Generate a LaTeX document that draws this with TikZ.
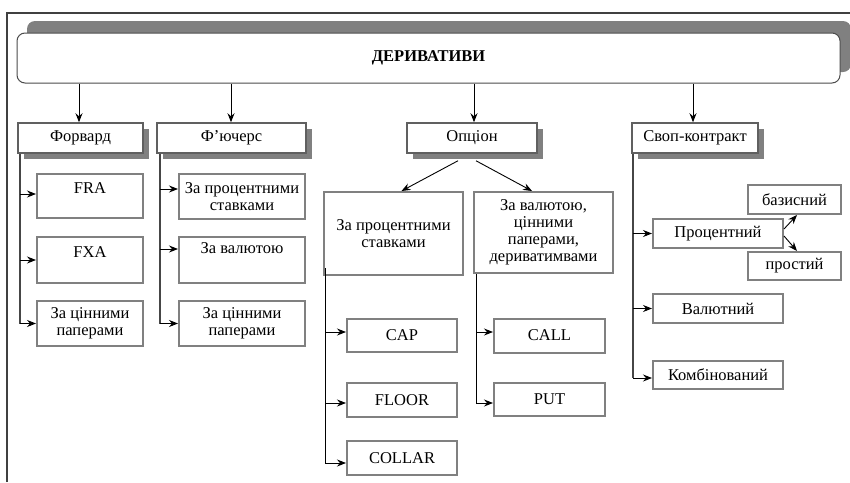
\documentclass[tikz,border=0pt]{standalone}
\usepackage{fontspec}
\setmainfont{Liberation Serif}
\usetikzlibrary{arrows.meta,calc,shadows}
\begin{document}
\begin{tikzpicture}[x=1pt,y=-1pt,
  font=\fontsize{16.5}{17}\selectfont,
  hbox/.style={draw=gray!75!black, line width=1.5pt, fill=white, inner sep=0pt, align=center,
    general shadow={fill=gray, shadow xshift=6pt, shadow yshift=-6pt}},
  cbox/.style={draw=gray, line width=2pt, fill=white, inner sep=0pt, align=center},
  conn/.style={line width=0.9pt, black},
  arr/.style={conn, -{Stealth[length=9pt,width=7pt,inset=3pt]}},
  trunk/.style={line width=1.3pt, gray!55!black},
]
\useasboundingbox (0,0) rectangle (850,482);
\fill[white] (0,0) rectangle (850,482);
% frame
\draw[gray!50!black, line width=1.5pt] (7,482) -- (7,13) -- (850,13);
% banner
\fill[gray, rounded corners=8pt] (27,21) rectangle (851,72);
\node[draw=gray!60!black, fill=white, rounded corners=8pt, minimum width=823, minimum height=50,
  line width=1pt, inner sep=0pt, font=\fontsize{16.5}{17}\selectfont\bfseries] (root) at (428.5,58) {ДЕРИВАТИВИ};

% level 1
\node[hbox, minimum width=125, minimum height=30] (fwd) at (80.5,138) {Форвард};
\node[hbox, minimum width=149, minimum height=30] (fut) at (231.5,138) {Ф’ючерс};
\node[hbox, minimum width=130, minimum height=30] (opt) at (472,138) {Опціон};
\node[hbox, minimum width=126, minimum height=30] (swap) at (695,138) {Своп-контракт};

\foreach \n/\x in {fwd/79,fut/231,opt/474,swap/693}
  \draw[arr] (root.south -| \x,0) -- (\n.north -| \x,0);

% forward
\node[cbox, minimum width=106, minimum height=44, text depth=15pt] (fra) at (90,196) {FRA};
\node[cbox, minimum width=106, minimum height=46, text depth=15pt] (fxa) at (90,260) {FXA};
\node[cbox, minimum width=106, minimum height=45] (fsec) at (90,323.5) {За цінними\\паперами};
\coordinate (fwdend) at (20,323.5);
\draw[trunk] (fwd.south -| fwdend) -- (fwdend);
\draw[arr] ([yshift=2pt]fra.west -| fwdend) -- ([yshift=2pt]fra.west);
\draw[arr] (fxa.west -| fwdend) -- (fxa.west);
\draw[arr] (fsec.west -| fwdend) -- (fsec.west);

% futures
\node[cbox, minimum width=126, minimum height=45] (frate) at (242,196.5) {За процентними\\ставками};
\node[cbox, minimum width=126, minimum height=46, text depth=23pt] (fcur) at (242,260) {За валютою};
\node[cbox, minimum width=126, minimum height=45] (fusec) at (242,323.5) {За цінними\\паперами};
\coordinate (futend) at (160,323.5);
\draw[trunk] (fut.south -| futend) -- (futend);
\draw[arr] ([yshift=7.5pt]frate.west -| futend) -- ([yshift=7.5pt]frate.west);
\draw[arr] ([yshift=11pt]fcur.west -| futend) -- ([yshift=11pt]fcur.west);
\draw[arr] (fusec.west -| futend) -- (fusec.west);

% option
\node[cbox, minimum width=139, minimum height=83] (orate) at (393.5,233.5) {За процентними\\ставками};
\node[cbox, minimum width=139, minimum height=81] (ocur) at (543.5,232.5) {За валютою,\\цінними\\паперами,\\дериватимвами};
\draw[arr] ([xshift=-14pt,yshift=-7pt]opt.south) -- ([xshift=8pt]orate.north);
\draw[arr] ([xshift=4pt,yshift=-7pt]opt.south) -- ([xshift=-11.5pt]ocur.north);

\node[cbox, minimum width=110, minimum height=33] (cap) at (402,335.5) {CAP};
\node[cbox, minimum width=110, minimum height=34] (floor) at (402,400) {FLOOR};
\node[cbox, minimum width=110, minimum height=34] (collar) at (402,458) {COLLAR};
\coordinate (oend) at (325,463);
\draw[conn] ([yshift=8pt]orate.south -| oend) -- (oend);
\draw[arr] ([yshift=3.5pt]cap.west -| oend) -- ([yshift=3.5pt]cap.west);
\draw[arr] ([yshift=-3pt]floor.west -| oend) -- ([yshift=-3pt]floor.west);
\draw[arr] (oend) -- (collar.west |- oend);

\node[cbox, minimum width=111, minimum height=34] (call) at (549.5,335.5) {CALL};
\node[cbox, minimum width=111, minimum height=33] (put) at (549.5,399) {PUT};
\coordinate (o2end) at (476,403);
\draw[conn] (ocur.south -| o2end) -- (o2end);
\draw[arr] ([yshift=3.5pt]call.west -| o2end) -- ([yshift=3.5pt]call.west);
\draw[arr] (o2end) -- (put.west |- o2end);

% swap
\node[cbox, minimum width=130, minimum height=29] (proc) at (718,233.5) {Процентний};
\node[cbox, minimum width=130, minimum height=29] (val) at (718,308.5) {Валютний};
\node[cbox, minimum width=130, minimum height=28] (komb) at (718,375) {Комбінований};
\node[cbox, minimum width=93, minimum height=29] (baz) at (794.5,199.5) {базисний};
\node[cbox, minimum width=93, minimum height=28] (prost) at (794.5,266) {простий};
\coordinate (send) at (633,378);
\draw[trunk] (swap.south -| send) -- (send);
\draw[arr] (proc.west -| send) -- (proc.west);
\draw[arr] (val.west -| send) -- (val.west);
\draw[arr] (send) -- (komb.west |- send);
\draw[arr] ([yshift=4.5pt]proc.east) -- ([xshift=2.5pt]baz.south);
\draw[arr] ([yshift=-2.5pt]proc.east) -- ([xshift=2.5pt]prost.north);
\end{tikzpicture}
\end{document}
